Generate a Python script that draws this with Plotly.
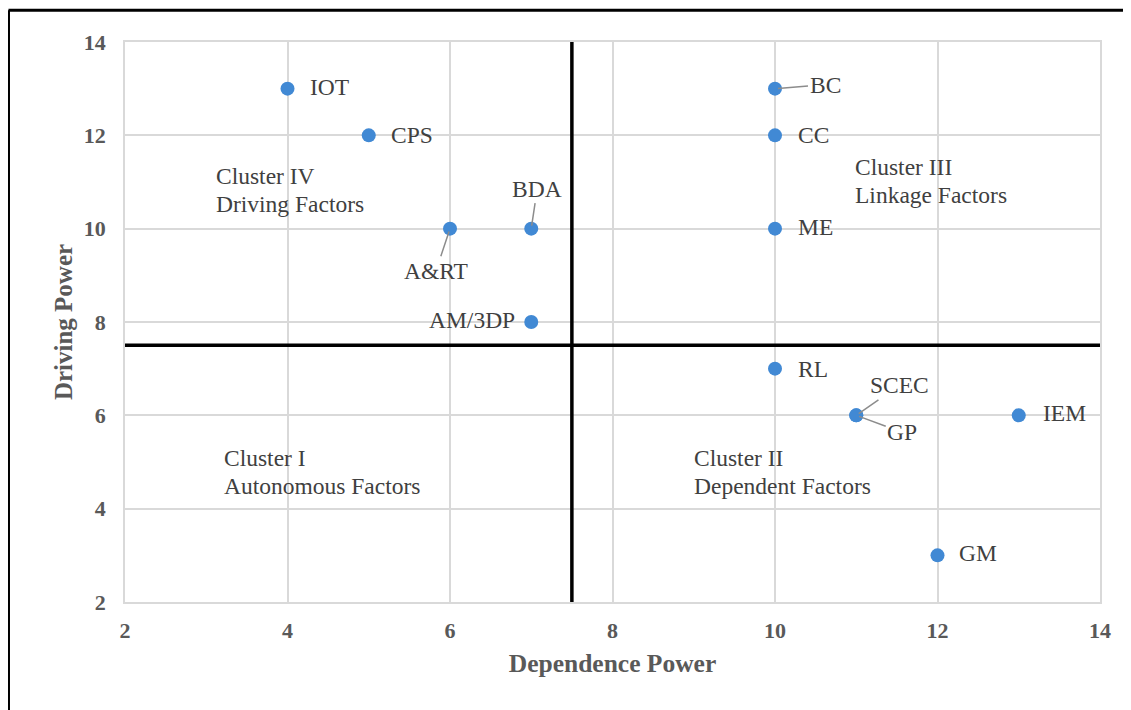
import plotly.graph_objects as go

# ---- data ----
labels = ["IOT", "CPS", "BDA", "A&RT", "AM/3DP", "BC", "CC", "ME", "RL", "SCEC", "GP", "IEM", "GM"]
dependence = [4, 5, 7, 6, 7, 10, 10, 10, 10, 11, 11, 13, 12]
driving = [13, 12, 10, 10, 8, 13, 12, 10, 7, 6, 6, 6, 3]
x_ticks = [2, 4, 6, 8, 10, 12, 14]
y_ticks = [2, 4, 6, 8, 10, 12, 14]
split_x = 7.5
split_y = 7.5
cluster_names = ["Cluster IV", "Cluster III", "Cluster I", "Cluster II"]
cluster_types = ["Driving Factors", "Linkage Factors", "Autonomous Factors", "Dependent Factors"]
cluster_x = [3.1, 10.96, 3.19, 8.98]
cluster_y = [10.83, 11.02, 4.79, 4.79]

# label placement style (offsets in px): (mode, dx, dy)
label_style = {
    "IOT": ("right", 20, -2),
    "CPS": ("right", 20, 0),
    "CC": ("right", 21, 0),
    "ME": ("right", 21, -2),
    "RL": ("right", 21, 0),
    "IEM": ("right", 22, -2),
    "GM": ("right", 19, -2),
    "AM/3DP": ("left", -14, -2),
    "BC": ("arrow", 50, -4),
    "BDA": ("arrow", 6, -40),
    "A&RT": ("arrow", -14, 42),
    "SCEC": ("arrow", 43, -30),
    "GP": ("arrow", 46, 17),
}

FONT = "Liberation Serif"
TXT = "#404040"
GRID = "#d9d9d9"
LBL = 23.5

fig = go.Figure()
fig.add_trace(go.Scatter(
    x=dependence, y=driving, mode="markers",
    marker=dict(size=14, color="#4189d4"),
    hoverinfo="text", text=labels, showlegend=False,
))

fig.add_shape(type="line", x0=split_x, x1=split_x, y0=0, y1=1, xref="x", yref="y domain",
              line=dict(color="black", width=3.5))
fig.add_shape(type="line", x0=0, x1=1, y0=split_y, y1=split_y, xref="x domain", yref="y",
              line=dict(color="black", width=3.5))

# outer black frame (top and left edges)
fig.add_shape(type="line", xref="paper", yref="paper", x0=-0.1195, x1=1.05, y0=1.0565, y1=1.0565,
              line=dict(color="black", width=3))
fig.add_shape(type="line", xref="paper", yref="paper", x0=-0.1195, x1=-0.1195, y0=1.0565, y1=-0.25,
              line=dict(color="black", width=3))

for lab, xv, yv in zip(labels, dependence, driving):
    mode, dx, dy = label_style[lab]
    if mode == "arrow":
        fig.add_annotation(x=xv, y=yv, text=lab, showarrow=True, ax=dx, ay=dy,
                           arrowhead=0, arrowwidth=1.5, arrowcolor="#8c8c8c",
                           standoff=3, font=dict(family=FONT, size=LBL, color=TXT))
    else:
        fig.add_annotation(x=xv, y=yv, text=lab, showarrow=False,
                           xanchor="left" if mode == "right" else "right",
                           xshift=dx, yshift=-dy,
                           font=dict(family=FONT, size=LBL, color=TXT))

for name, kind, xv, yv in zip(cluster_names, cluster_types, cluster_x, cluster_y):
    fig.add_annotation(x=xv, y=yv, text=name, showarrow=False, xanchor="left", yshift=14,
                       font=dict(family=FONT, size=LBL, color=TXT))
    fig.add_annotation(x=xv, y=yv, text=kind, showarrow=False, xanchor="left", yshift=-14,
                       font=dict(family=FONT, size=LBL, color=TXT))

fig.update_layout(
    width=1123, height=702,
    margin=dict(l=117, r=31, t=34, b=108),
    paper_bgcolor="white", plot_bgcolor="white",
    font=dict(family=FONT),
)
fig.update_xaxes(
    range=[2, 14], tickvals=x_ticks, showgrid=True, gridcolor=GRID, gridwidth=1.5,
    showline=True, linecolor=GRID, linewidth=1.5, mirror=True, zeroline=False,
    ticks="", ticklabelstandoff=8,
    tickfont=dict(family=FONT, size=22, color="#595959", weight="bold"),
    title=dict(text="Dependence Power", standoff=12,
               font=dict(family=FONT, size=25.5, color="#595959", weight="bold")),
)
fig.update_yaxes(
    range=[2, 14], tickvals=y_ticks, showgrid=True, gridcolor=GRID, gridwidth=1.5,
    showline=True, linecolor=GRID, linewidth=1.5, mirror=True, zeroline=False,
    ticks="", ticklabelstandoff=13,
    tickfont=dict(family=FONT, size=22, color="#595959", weight="bold"),
    title=dict(text="Driving Power", standoff=4,
               font=dict(family=FONT, size=25, color="#595959", weight="bold")),
)

fig.write_html("out.html")
